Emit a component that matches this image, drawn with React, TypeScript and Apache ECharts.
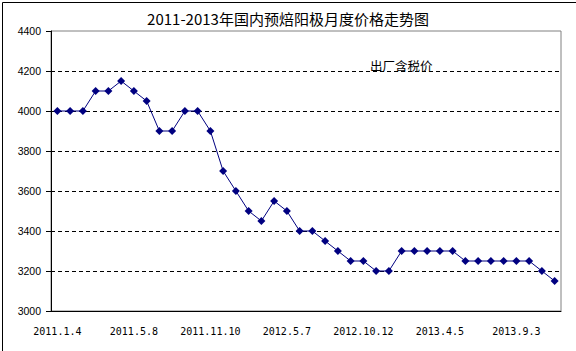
import React, { useEffect, useRef } from "react";
import * as echarts from "echarts";

const titleText = "2011-2013年国内预焙阳极月度价格走势图";
const noteText = "出厂含税价";

// 40 monthly observations; only the labelled dates are known
const dateLabels = ["2011.1.4", "2011.5.8", "2011.11.10", "2012.5.7", "2012.10.12", "2013.4.5", "2013.9.3"];
const labelEvery = 6;
const prices = [
  4000, 4000, 4000, 4100, 4100, 4150, 4100, 4050, 3900, 3900,
  4000, 4000, 3900, 3700, 3600, 3500, 3450, 3550, 3500, 3400,
  3400, 3350, 3300, 3250, 3250, 3200, 3200, 3300, 3300, 3300,
  3300, 3300, 3250, 3250, 3250, 3250, 3250, 3250, 3200, 3150,
];
const categories = prices.map((_, i) =>
  i % labelEvery === 0 && dateLabels[i / labelEvery] ? dateLabels[i / labelEvery] : ""
);
const yMin = 3000;
const yMax = 4400;
const yStep = 200;

export default function App() {
  const ref = useRef<HTMLDivElement>(null);
  useEffect(() => {
    if (!ref.current) return;
    const chart = echarts.init(ref.current, null, { renderer: "svg" });
    chart.setOption({
      animation: false,
      backgroundColor: "#ffffff",
      title: {
        text: titleText,
        left: "center",
        top: 6,
        textStyle: {
          fontFamily: "Noto Sans CJK SC",
          fontSize: 15,
          fontWeight: "normal",
          color: "#000000",
        },
      },
      graphic: [
        {
          type: "rect",
          left: 0,
          top: 0,
          shape: { x: 0.5, y: 0.5, width: 575, height: 350 },
          style: { fill: "none", stroke: "#000000", lineWidth: 1 },
          silent: true,
        },
        {
          type: "text",
          left: 370,
          top: 59,
          style: {
            text: noteText,
            fontFamily: "Noto Sans CJK SC",
            fontSize: 12.5,
            fill: "#000000",
          },
        },
      ],
      grid: {
        left: 51,
        right: 15,
        top: 31,
        bottom: 40,
        show: true,
        borderColor: "#808080",
        borderWidth: 1,
      },
      xAxis: {
        type: "category",
        data: categories,
        boundaryGap: true,
        axisLine: { lineStyle: { color: "#000000", width: 1 } },
        axisTick: { inside: true, length: 4, interval: 1, lineStyle: { color: "#000000" } },
        axisLabel: {
          interval: 0,
          margin: 15,
          fontFamily: "DejaVu Sans Mono",
          fontSize: 10,
          color: "#000000",
        },
        splitLine: { show: false },
      },
      yAxis: {
        type: "value",
        min: yMin,
        max: yMax,
        interval: yStep,
        axisLine: { show: true, lineStyle: { color: "#000000", width: 1 } },
        axisTick: { show: true, inside: false, length: 5, lineStyle: { color: "#000000" } },
        axisLabel: {
          margin: 10,
          fontFamily: "Liberation Sans",
          fontSize: 10.5,
          color: "#000000",
          formatter: (v: number) => String(v),
        },
        splitLine: {
          show: true,
          showMinLine: false,
          showMaxLine: false,
          lineStyle: { color: "#000000", type: [4, 3], width: 1 },
        },
      },
      series: [
        {
          type: "line",
          data: prices,
          symbol: "diamond",
          symbolSize: 8,
          itemStyle: { color: "#000080" },
          lineStyle: { color: "#000080", width: 1 },
        },
      ],
    });
    return () => chart.dispose();
  }, []);
  return (
    <div
      ref={ref}
      style={{ position: "absolute", left: 0, top: 0, width: 576, height: 351 }}
    />
  );
}
